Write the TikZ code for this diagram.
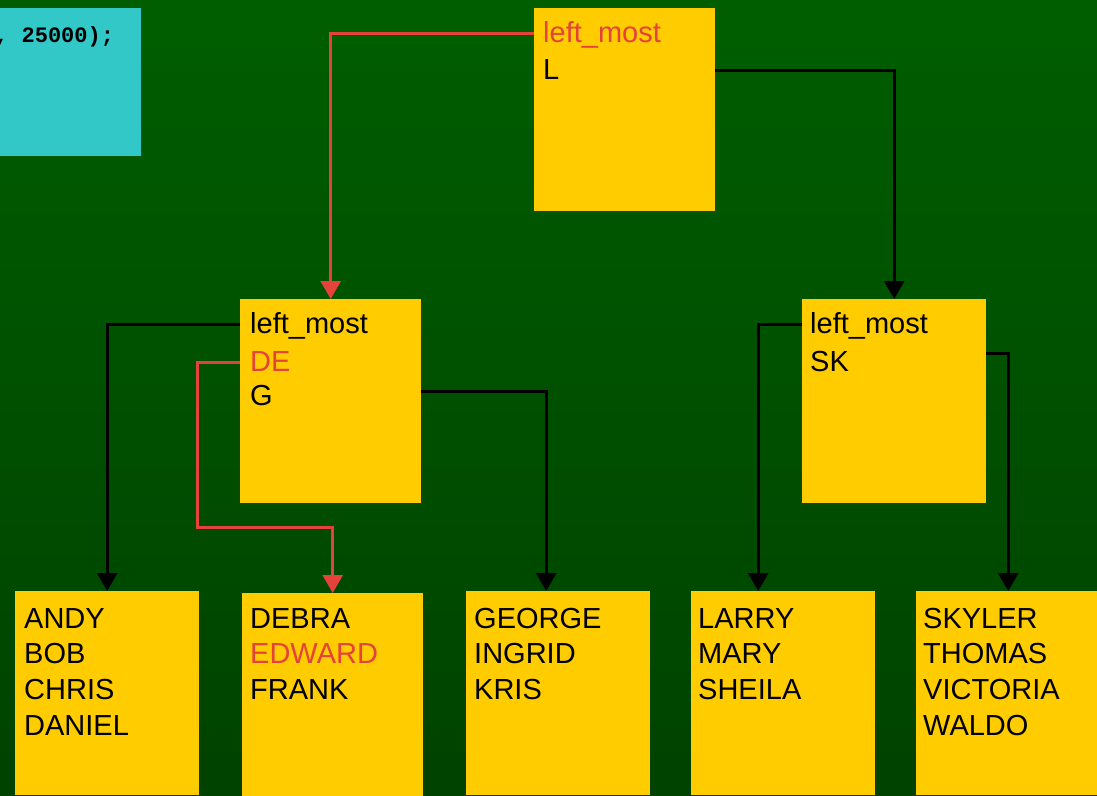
\documentclass[tikz,border=0pt]{standalone}
\usepackage{fontspec}
\setmainfont{Liberation Sans}
\newfontfamily\codefont{Liberation Mono}
\usetikzlibrary{
  calc, % Fuer Koordinatenrechnung
  arrows.meta % Fuer Pfeilspitzen
}
\definecolor{bggreentop}{RGB}{0,94,0}
\definecolor{bggreenbot}{RGB}{0,66,0}
\definecolor{boxyellow}{RGB}{255,204,0}
\definecolor{codecyan}{RGB}{51,200,200}
\definecolor{linkred}{RGB}{228,66,58}

\begin{document}
\begin{tikzpicture}[
      x=1pt, y=-1pt, % Pixelkoordinaten
      >={Triangle[width=20pt,length=18pt]}, % Pfeilspitze
      block/.style={fill=boxyellow, anchor=north west, inner sep=0pt,
        minimum width=184pt, minimum height=204pt}, % Knoten des Baums
      entry/.style={anchor=base west, inner sep=0pt, text height=18pt,
        text depth=0pt, font=\fontsize{29}{35}\selectfont}, % Schluessel
      link/.style={line width=3pt, ->}, % Zeiger
      redlink/.style={link, linkred}, % Suchpfad
    ]
    % Hintergrund
    \clip (0,0) rectangle (1097,795);
    \shade[top color=bggreentop, bottom color=bggreenbot] (0,0) rectangle (1097,795);
    % Codefenster
    \node[fill=codecyan, anchor=north west, inner sep=0pt,
      minimum width=141pt, minimum height=148pt] (code) at (0,8) {};
    \node[anchor=base west, inner sep=0pt,
      font=\codefont\bfseries\fontsize{22}{26}\selectfont] (codeline) at (-5,42) {, 25000);};
    % Wurzel
    \node[block, minimum width=181pt, minimum height=203pt] (root) at (534,8) {};
    \node[entry, text=linkred] (rootA) at (543,42) {left\_most};
    \node[entry] (rootB) at (543,79) {L};
    % Innere Knoten
    \node[block, minimum width=181pt] (midL) at (240,299) {};
    \node[entry] (midLA) at (250,333) {left\_most};
    \node[entry, text=linkred] (midLB) at (250,371) {DE};
    \node[entry] (midLC) at (250,405) {G};
    \node[block] (midR) at (802,299) {};
    \node[entry] (midRA) at (810,333) {left\_most};
    \node[entry] (midRB) at (810,371) {SK};
    % Blaetter
    \node[block] (leafA) at (15,591) {};
    \node[entry] (leafA1) at (24,628) {ANDY};
    \node[entry] (leafA2) at (24,663) {BOB};
    \node[entry] (leafA3) at (24,699) {CHRIS};
    \node[entry] (leafA4) at (24,735) {DANIEL};
    \node[block, minimum width=181pt] (leafB) at (242,593) {};
    \node[entry] (leafB1) at (250,628) {DEBRA};
    \node[entry, text=linkred] (leafB2) at (250,663) {EDWARD};
    \node[entry] (leafB3) at (250,699) {FRANK};
    \node[block] (leafC) at (466,591) {};
    \node[entry] (leafC1) at (474,628) {GEORGE};
    \node[entry] (leafC2) at (474,663) {INGRID};
    \node[entry] (leafC3) at (474,699) {KRIS};
    \node[block] (leafD) at (691,591) {};
    \node[entry] (leafD1) at (698,628) {LARRY};
    \node[entry] (leafD2) at (698,663) {MARY};
    \node[entry] (leafD3) at (698,699) {SHEILA};
    \node[block] (leafE) at (916,591) {};
    \node[entry] (leafE1) at (923,628) {SKYLER};
    \node[entry] (leafE2) at (923,663) {THOMAS};
    \node[entry] (leafE3) at (923,699) {VICTORIA};
    \node[entry] (leafE4) at (923,735) {WALDO};
    % Zeiger
    \coordinate (bendDE) at (197,527);
    \draw[redlink] (root.west |- rootA) -| (midL.north);
    \draw[link] (root.east |- rootB) -| (midR.north);
    \draw[link] (midL.west |- midLA) -| (leafA.north);
    \draw[redlink] (midL.west |- midLB) -| (bendDE) -| (leafB.north);
    \draw[link] ($(midL.east |- midLC)+(0,-5)$) -| ($(leafC.north)+(-12,0)$);
    \draw[link] (midR.west |- midRA) -| ($(leafD.north)+(-25,0)$);
    \draw[link] ($(midR.east |- midRB)+(0,-9)$) -| (leafE.north);
  \end{tikzpicture}
\end{document}
